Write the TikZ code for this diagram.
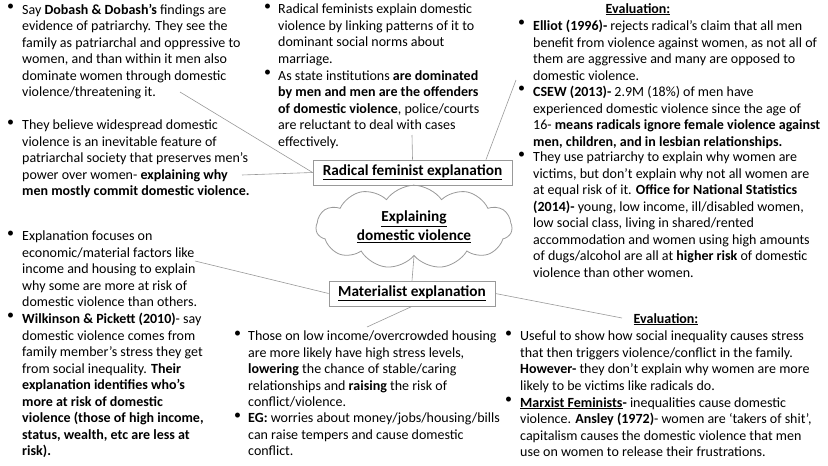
\documentclass[tikz,border=0pt]{standalone}
\usepackage{fontspec}
\setmainfont{Carlito}
\usetikzlibrary{shapes.symbols}
\begin{document}
\begin{tikzpicture}[x=1pt,y=-1pt,
  txt/.style={anchor=north west,inner sep=0pt,align=left,font=\fontsize{14}{16.5}\selectfont},
  bul/.style={anchor=north west,inner sep=0pt,font=\fontsize{14}{16.5}\selectfont},
  hbox/.style={draw=gray!80,line width=0.8pt,inner sep=4pt,font=\fontsize{15.3}{17}\selectfont\bfseries},
  link/.style={draw=gray!80,line width=0.6pt}]
\useasboundingbox (0,0) rectangle (828,466);
% top left
\node[bul] (b1) at (7,4) {•};
\node[txt] (t1) at (22,4) {Say \textbf{Dobash \& Dobash’s} findings are\\evidence of patriarchy. They see the\\family as patriarchal and oppressive to\\women, and than within it men also\\dominate women through domestic\\violence/threatening it.};
\node[bul] (b2) at (7,120) {•};
\node[txt] (t2) at (22,120) {They believe widespread domestic\\violence is an inevitable feature of\\patriarchal society that preserves men’s\\power over women- \textbf{explaining why}\\\textbf{men mostly commit domestic violence.}};
% top middle
\node[bul] (b3) at (264,4) {•};
\node[txt] (t3) at (278,4) {Radical feminists explain domestic\\violence by linking patterns of it to\\dominant social norms about\\marriage.};
\node[bul] (b4) at (264,70) {•};
\node[txt] (t4) at (278,70) {As state institutions \textbf{are dominated}\\\textbf{by men and men are the offenders}\\\textbf{of domestic violence}, police/courts\\are reluctant to deal with cases\\effectively.};
% top right
\node[txt,anchor=north] (e1h) at (638,3) {\textbf{\underline{Evaluation:}}};
\node[bul] (b5) at (518,20) {•};
\node[txt] (t5) at (533,20) {\textbf{Elliot (1996)-} rejects radical’s claim that all men\\benefit from violence against women, as not all of\\them are aggressive and many are opposed to\\domestic violence.};
\node[bul] (b6) at (518,86) {•};
\node[txt] (t6) at (533,86) {\textbf{CSEW (2013)-} 2.9M (18\%) of men have\\experienced domestic violence since the age of\\16- \textbf{means radicals ignore female violence against}\\\textbf{men, children, and in lesbian relationships.}};
\node[bul] (b7) at (518,152) {•};
\node[txt] (t7) at (533,152) {They use patriarchy to explain why women are\\victims, but don’t explain why not all women are\\at equal risk of it. \textbf{Office for National Statistics}\\\textbf{(2014)-} young, low income, ill/disabled women,\\low social class, living in shared/rented\\accommodation and women using high amounts\\of dugs/alcohol are all at \textbf{higher risk} of domestic\\violence than other women.};
% centre
\node[hbox,minimum width=199pt,minimum height=25pt] (rad) at (412.5,172.5) {\underline{Radical feminist explanation}};
\node[cloud,draw=gray!80,line width=0.8pt,cloud puffs=11,cloud puff arc=110,aspect=2.6,minimum width=196pt,minimum height=75pt,inner sep=0pt,align=center,font=\fontsize{15.3}{19}\selectfont\bfseries] (cl) at (414,227) {\underline{Explaining}\\\underline{domestic violence}};
\node[hbox,minimum width=166pt,minimum height=25pt] (mat) at (412,293.5) {\underline{Materialist explanation}};
% left middle
\node[bul] (b8) at (7,231) {•};
\node[txt] (t8) at (22,231) {Explanation focuses on\\economic/material factors like\\income and housing to explain\\why some are more at risk of\\domestic violence than others.};
\node[bul] (b9) at (7,313) {•};
\node[txt] (t9) at (22,313) {\textbf{Wilkinson \& Pickett (2010)}- say\\domestic violence comes from\\family member’s stress they get\\from social inequality. \textbf{Their}\\\textbf{explanation identifies who’s}\\\textbf{more at risk of domestic}\\\textbf{violence (those of high income,}\\\textbf{status, wealth, etc are less at}\\\textbf{risk).}};
% bottom middle
\node[bul] (b10) at (234,331) {•};
\node[txt] (t10) at (248,331) {Those on low income/overcrowded housing\\are more likely have high stress levels,\\\textbf{lowering} the chance of stable/caring\\relationships and \textbf{raising} the risk of\\conflict/violence.};
\node[bul] (b11) at (234,413) {•};
\node[txt] (t11) at (248,413) {\textbf{EG:} worries about money/jobs/housing/bills\\can raise tempers and cause domestic\\conflict.};
% bottom right
\node[txt,anchor=north] (e2h) at (666,313) {\textbf{\underline{Evaluation:}}};
\node[bul] (b12) at (505,331) {•};
\node[txt] (t12) at (520,331) {Useful to show how social inequality causes stress\\that then triggers violence/conflict in the family.\\\textbf{However-} they don’t explain why women are more\\likely to be victims like radicals do.};
\node[bul] (b13) at (505,397) {•};
\node[txt] (t13) at (520,397) {\textbf{\underline{Marxist Feminists}-} inequalities cause domestic\\violence. \textbf{Ansley (1972)}- women are ‘takers of shit’,\\capitalism causes the domestic violence that men\\use on women to release their frustrations.};
% connectors
\coordinate (c1) at (180,92);
\coordinate (c2) at (242,175);
\coordinate (c3) at (412,135);
\coordinate (c4) at (516,80);
\coordinate (c5) at (195,261);
\coordinate (c6) at (622,318);
\coordinate (c7) at (367,327);
\draw[link] (c1) -- (rad.west);
\draw[link] (c2) -- (rad.west);
\draw[link] (c3) -- (rad.north);
\draw[link] (c4) -- (rad.north east -| 486,0);
\draw[link] (rad.south) -- (cl.north);
\draw[link] (cl.south) -- (mat.north);
\draw[link] (c5) -- (mat.west);
\draw[link] (mat.east) -- (c6);
\draw[link] (mat.south) -- (c7);
\end{tikzpicture}
\end{document}
